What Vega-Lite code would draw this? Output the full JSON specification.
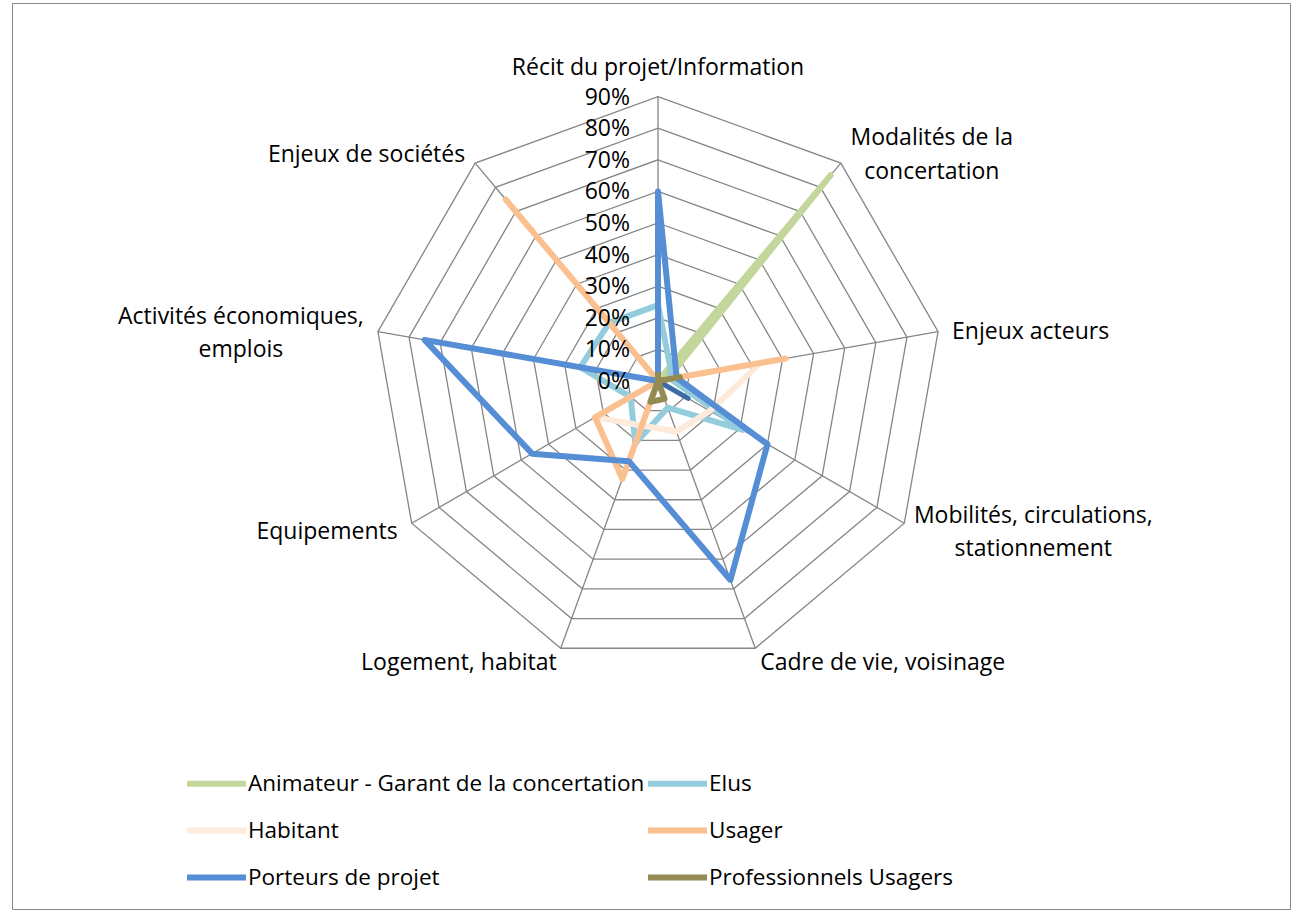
{
  "$schema": "https://vega.github.io/schema/vega-lite/v6.json",
  "width": 1278,
  "height": 906,
  "autosize": "none",
  "padding": {"left": 12, "top": 3, "right": 3, "bottom": 3},
  "background": "white",
  "config": {
    "view": {"stroke": "#868686", "strokeWidth": 1},
    "font": "Open Sans",
    "text": {"font": "Open Sans", "fontSize": 23, "color": "#000000"},
    "legend": {
      "orient": "none",
      "direction": "horizontal",
      "legendX": 172,
      "legendY": 748,
      "columns": 2,
      "columnPadding": -20,
      "rowPadding": 2,
      "padding": 0,
      "symbolType": "stroke",
      "symbolSize": 3481,
      "symbolStrokeWidth": 6,
      "labelFont": "Open Sans",
      "labelFontSize": 22.5,
      "labelColor": "#000000",
      "labelOffset": -1,
      "labelLimit": 800,
      "title": null
    }
  },
  "params": [
    {
      "name": "axesList",
      "value": [
        "Récit du projet/Information",
        "Modalités de la concertation",
        "Enjeux acteurs",
        "Mobilités, circulations, stationnement",
        "Cadre de vie, voisinage",
        "Logement, habitat",
        "Equipements",
        "Activités économiques, emplois",
        "Enjeux de sociétés"
      ]
    }
  ],
  "datasets": {
    "axes": [
      {"axe": "Récit du projet/Information", "label": "Récit du projet/Information"},
      {"axe": "Modalités de la concertation", "label": "Modalités de la\nconcertation"},
      {"axe": "Enjeux acteurs", "label": "Enjeux acteurs"},
      {"axe": "Mobilités, circulations, stationnement", "label": "Mobilités, circulations,\nstationnement"},
      {"axe": "Cadre de vie, voisinage", "label": "Cadre de vie, voisinage"},
      {"axe": "Logement, habitat", "label": "Logement, habitat"},
      {"axe": "Equipements", "label": "Equipements"},
      {"axe": "Activités économiques, emplois", "label": "Activités économiques,\nemplois"},
      {"axe": "Enjeux de sociétés", "label": "Enjeux de sociétés"}
    ],
    "levels": [
      {"level": 0}, {"level": 0.1}, {"level": 0.2}, {"level": 0.3}, {"level": 0.4},
      {"level": 0.5}, {"level": 0.6}, {"level": 0.7}, {"level": 0.8}, {"level": 0.9}
    ],
    "series": [
      {"serie": "Animateur - Garant de la concertation", "axe": "Récit du projet/Information", "v": 0},
      {"serie": "Animateur - Garant de la concertation", "axe": "Modalités de la concertation", "v": 0.85},
      {"serie": "Animateur - Garant de la concertation", "axe": "Enjeux acteurs", "v": 0.03},
      {"serie": "Animateur - Garant de la concertation", "axe": "Mobilités, circulations, stationnement", "v": 0},
      {"serie": "Animateur - Garant de la concertation", "axe": "Cadre de vie, voisinage", "v": 0},
      {"serie": "Animateur - Garant de la concertation", "axe": "Logement, habitat", "v": 0},
      {"serie": "Animateur - Garant de la concertation", "axe": "Equipements", "v": 0},
      {"serie": "Animateur - Garant de la concertation", "axe": "Activités économiques, emplois", "v": 0},
      {"serie": "Animateur - Garant de la concertation", "axe": "Enjeux de sociétés", "v": 0},
      {"serie": "Elus", "axe": "Récit du projet/Information", "v": 0.24},
      {"serie": "Elus", "axe": "Modalités de la concertation", "v": 0.06},
      {"serie": "Elus", "axe": "Enjeux acteurs", "v": 0.04},
      {"serie": "Elus", "axe": "Mobilités, circulations, stationnement", "v": 0.31},
      {"serie": "Elus", "axe": "Cadre de vie, voisinage", "v": 0.09},
      {"serie": "Elus", "axe": "Logement, habitat", "v": 0.21},
      {"serie": "Elus", "axe": "Equipements", "v": 0.10},
      {"serie": "Elus", "axe": "Activités économiques, emplois", "v": 0.25},
      {"serie": "Elus", "axe": "Enjeux de sociétés", "v": 0.24},
      {"serie": "Habitant", "axe": "Récit du projet/Information", "v": 0},
      {"serie": "Habitant", "axe": "Modalités de la concertation", "v": 0},
      {"serie": "Habitant", "axe": "Enjeux acteurs", "v": 0.33},
      {"serie": "Habitant", "axe": "Mobilités, circulations, stationnement", "v": 0.19},
      {"serie": "Habitant", "axe": "Cadre de vie, voisinage", "v": 0.17},
      {"serie": "Habitant", "axe": "Logement, habitat", "v": 0.15},
      {"serie": "Habitant", "axe": "Equipements", "v": 0.23},
      {"serie": "Habitant", "axe": "Activités économiques, emplois", "v": 0},
      {"serie": "Habitant", "axe": "Enjeux de sociétés", "v": 0},
      {"serie": "Usager", "axe": "Récit du projet/Information", "v": 0},
      {"serie": "Usager", "axe": "Modalités de la concertation", "v": 0},
      {"serie": "Usager", "axe": "Enjeux acteurs", "v": 0.41},
      {"serie": "Usager", "axe": "Mobilités, circulations, stationnement", "v": 0},
      {"serie": "Usager", "axe": "Cadre de vie, voisinage", "v": 0},
      {"serie": "Usager", "axe": "Logement, habitat", "v": 0.33},
      {"serie": "Usager", "axe": "Equipements", "v": 0.23},
      {"serie": "Usager", "axe": "Activités économiques, emplois", "v": 0},
      {"serie": "Usager", "axe": "Enjeux de sociétés", "v": 0.75},
      {"serie": "Porteurs de projet", "axe": "Récit du projet/Information", "v": 0.60},
      {"serie": "Porteurs de projet", "axe": "Enjeux acteurs", "v": 0.06},
      {"serie": "Porteurs de projet", "axe": "Mobilités, circulations, stationnement", "v": 0.40},
      {"serie": "Porteurs de projet", "axe": "Cadre de vie, voisinage", "v": 0.67},
      {"serie": "Porteurs de projet", "axe": "Logement, habitat", "v": 0.27},
      {"serie": "Porteurs de projet", "axe": "Equipements", "v": 0.46},
      {"serie": "Porteurs de projet", "axe": "Activités économiques, emplois", "v": 0.75},
      {"serie": "Porteurs de projet", "axe": "Enjeux de sociétés", "v": 0},
      {"serie": "Autres", "axe": "Récit du projet/Information", "v": 0},
      {"serie": "Autres", "axe": "Modalités de la concertation", "v": 0},
      {"serie": "Autres", "axe": "Enjeux acteurs", "v": 0},
      {"serie": "Autres", "axe": "Mobilités, circulations, stationnement", "v": 0.11},
      {"serie": "Autres", "axe": "Cadre de vie, voisinage", "v": 0},
      {"serie": "Autres", "axe": "Logement, habitat", "v": 0},
      {"serie": "Autres", "axe": "Equipements", "v": 0},
      {"serie": "Autres", "axe": "Activités économiques, emplois", "v": 0},
      {"serie": "Autres", "axe": "Enjeux de sociétés", "v": 0},
      {"serie": "Professionnels Usagers", "axe": "Récit du projet/Information", "v": 0.02},
      {"serie": "Professionnels Usagers", "axe": "Modalités de la concertation", "v": 0},
      {"serie": "Professionnels Usagers", "axe": "Enjeux acteurs", "v": 0.07},
      {"serie": "Professionnels Usagers", "axe": "Mobilités, circulations, stationnement", "v": 0},
      {"serie": "Professionnels Usagers", "axe": "Cadre de vie, voisinage", "v": 0.06},
      {"serie": "Professionnels Usagers", "axe": "Logement, habitat", "v": 0.07},
      {"serie": "Professionnels Usagers", "axe": "Equipements", "v": 0},
      {"serie": "Professionnels Usagers", "axe": "Activités économiques, emplois", "v": 0},
      {"serie": "Professionnels Usagers", "axe": "Enjeux de sociétés", "v": 0}
    ]
  },
  "layer": [
    {
      "data": {"name": "levels"},
      "transform": [
        {"filter": "datum.level > 0"},
        {"calculate": "axesList", "as": "axe"},
        {"flatten": ["axe"]},
        {"calculate": "indexof(axesList, datum.axe)", "as": "k"},
        {"calculate": "datum.k * 2 * PI / 9", "as": "ang"},
        {"calculate": "datum.level * sin(datum.ang)", "as": "px"},
        {"calculate": "datum.level * cos(datum.ang)", "as": "py"}
      ],
      "mark": {"type": "line", "interpolate": "linear-closed", "stroke": "#868686", "strokeWidth": 1.3},
      "encoding": {
        "x": {"field": "px", "type": "quantitative", "scale": {"domain": [-2.0443, 2.0], "nice": false, "zero": false}, "axis": null},
        "y": {"field": "py", "type": "quantitative", "scale": {"domain": [-1.6709, 1.1962], "nice": false, "zero": false}, "axis": null},
        "detail": {"field": "level", "type": "nominal"},
        "order": {"field": "k", "type": "quantitative"}
      }
    },
    {
      "data": {"name": "axes"},
      "transform": [
        {"calculate": "indexof(axesList, datum.axe)", "as": "k"},
        {"calculate": "datum.k * 2 * PI / 9", "as": "ang"},
        {"calculate": "0.9 * sin(datum.ang)", "as": "px"},
        {"calculate": "0.9 * cos(datum.ang)", "as": "py"}
      ],
      "mark": {"type": "rule", "stroke": "#868686", "strokeWidth": 1.3},
      "encoding": {
        "x": {"field": "px", "type": "quantitative"},
        "y": {"field": "py", "type": "quantitative"},
        "x2": {"datum": 0},
        "y2": {"datum": 0}
      }
    },
    {
      "data": {"name": "series"},
      "transform": [
        {"filter": "datum.serie !== 'Autres' && datum.serie !== 'Professionnels Usagers'"},
        {"calculate": "indexof(axesList, datum.axe)", "as": "k"},
        {"calculate": "datum.k * 2 * PI / 9", "as": "ang"},
        {"calculate": "datum.v * sin(datum.ang)", "as": "px"},
        {"calculate": "datum.v * cos(datum.ang)", "as": "py"}
      ],
      "mark": {"type": "line", "interpolate": "linear-closed", "strokeWidth": 6, "strokeCap": "round", "strokeJoin": "round"},
      "encoding": {
        "x": {"field": "px", "type": "quantitative"},
        "y": {"field": "py", "type": "quantitative"},
        "color": {
          "field": "serie",
          "type": "nominal",
          "scale": {
            "domain": ["Animateur - Garant de la concertation", "Elus", "Habitant", "Usager", "Porteurs de projet", "Professionnels Usagers"],
            "range": ["#C3D69B", "#93CDDD", "#FDEADA", "#FAC090", "#558ED5", "#948A54"]
          },
          "sort": null
        },
        "order": {"field": "k", "type": "quantitative"}
      }
    },
    {
      "data": {"name": "series"},
      "transform": [
        {"filter": "datum.serie === 'Autres'"},
        {"calculate": "indexof(axesList, datum.axe)", "as": "k"},
        {"calculate": "datum.k * 2 * PI / 9", "as": "ang"},
        {"calculate": "datum.v * sin(datum.ang)", "as": "px"},
        {"calculate": "datum.v * cos(datum.ang)", "as": "py"}
      ],
      "mark": {"type": "line", "interpolate": "linear-closed", "strokeWidth": 5, "strokeCap": "round", "strokeJoin": "round", "stroke": "#3D6BA6"},
      "encoding": {
        "x": {"field": "px", "type": "quantitative"},
        "y": {"field": "py", "type": "quantitative"},
        "order": {"field": "k", "type": "quantitative"}
      }
    },
    {
      "data": {"name": "series"},
      "transform": [
        {"filter": "datum.serie === 'Professionnels Usagers'"},
        {"calculate": "indexof(axesList, datum.axe)", "as": "k"},
        {"calculate": "datum.k * 2 * PI / 9", "as": "ang"},
        {"calculate": "datum.v * sin(datum.ang)", "as": "px"},
        {"calculate": "datum.v * cos(datum.ang)", "as": "py"}
      ],
      "mark": {"type": "line", "interpolate": "linear-closed", "strokeWidth": 6, "strokeCap": "round", "strokeJoin": "round"},
      "encoding": {
        "x": {"field": "px", "type": "quantitative"},
        "y": {"field": "py", "type": "quantitative"},
        "color": {"field": "serie", "type": "nominal"},
        "order": {"field": "k", "type": "quantitative"}
      }
    },
    {
      "data": {"name": "levels"},
      "mark": {"type": "text", "align": "right", "baseline": "middle", "dx": -28, "dy": 1, "fontSize": 23},
      "encoding": {
        "x": {"datum": 0},
        "y": {"field": "level", "type": "quantitative"},
        "text": {"field": "level", "type": "quantitative", "format": ".0%"}
      }
    },
    {
      "data": {"name": "axes"},
      "transform": [
        {"calculate": "indexof(axesList, datum.axe)", "as": "k"},
        {"calculate": "datum.k * 2 * PI / 9", "as": "ang"},
        {"calculate": "0.9 * sin(datum.ang)", "as": "px"},
        {"calculate": "0.9 * cos(datum.ang)", "as": "py"}
      ],
      "encoding": {
        "x": {"field": "px", "type": "quantitative"},
        "y": {"field": "py", "type": "quantitative"},
        "text": {"field": "label"}
      },
      "layer": [
        {"transform": [{"filter": "datum.k === 0"}], "mark": {"type": "text", "align": "center", "baseline": "middle", "dy": -29, "lineBreak": "\n", "lineHeight": 33}},
        {"transform": [{"filter": "datum.k === 1"}], "mark": {"type": "text", "align": "center", "baseline": "middle", "dx": 91, "dy": -25, "lineBreak": "\n", "lineHeight": 34}},
        {"transform": [{"filter": "datum.k === 2"}], "mark": {"type": "text", "align": "left", "baseline": "middle", "dx": 14, "dy": 0, "lineBreak": "\n", "lineHeight": 33}},
        {"transform": [{"filter": "datum.k === 3"}], "mark": {"type": "text", "align": "center", "baseline": "middle", "dx": 129, "dy": -7, "lineBreak": "\n", "lineHeight": 33}},
        {"transform": [{"filter": "datum.k === 4"}], "mark": {"type": "text", "align": "left", "baseline": "middle", "dx": 5, "dy": 15, "lineBreak": "\n", "lineHeight": 33}},
        {"transform": [{"filter": "datum.k === 5"}], "mark": {"type": "text", "align": "right", "baseline": "middle", "dx": -4, "dy": 15, "lineBreak": "\n", "lineHeight": 33}},
        {"transform": [{"filter": "datum.k === 6"}], "mark": {"type": "text", "align": "right", "baseline": "middle", "dx": -14, "dy": 9, "lineBreak": "\n", "lineHeight": 33}},
        {"transform": [{"filter": "datum.k === 7"}], "mark": {"type": "text", "align": "center", "baseline": "middle", "dx": -137, "dy": -15, "lineBreak": "\n", "lineHeight": 33}},
        {"transform": [{"filter": "datum.k === 8"}], "mark": {"type": "text", "align": "right", "baseline": "middle", "dx": -10, "dy": -8, "lineBreak": "\n", "lineHeight": 33}}
      ]
    }
  ]
}
